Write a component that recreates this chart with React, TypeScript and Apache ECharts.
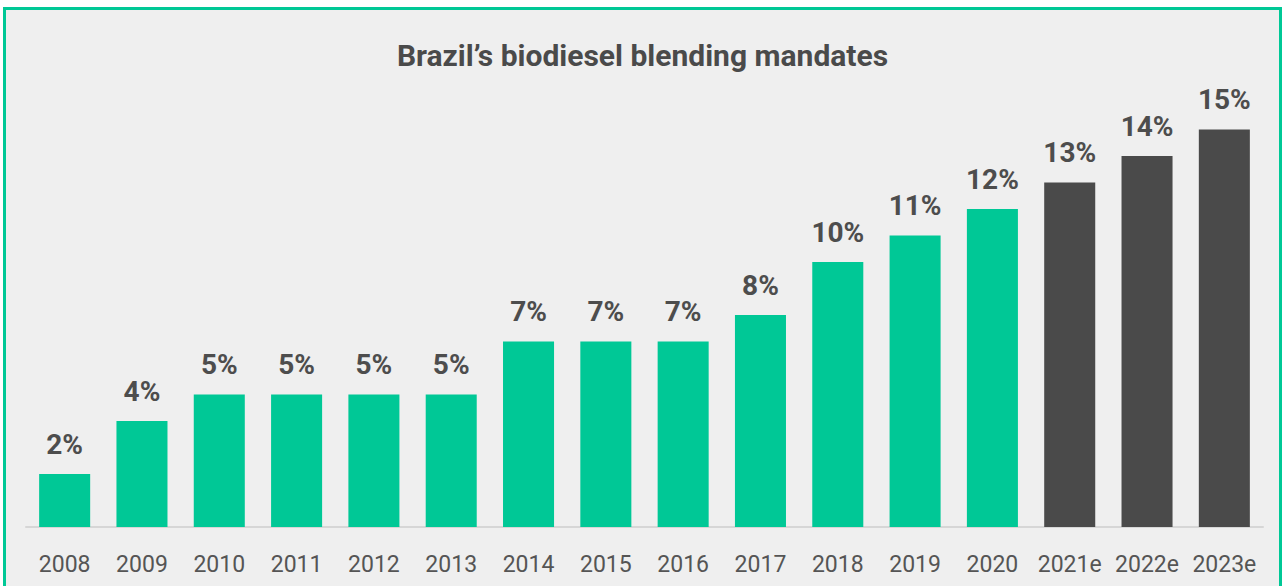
import React, { useEffect, useRef } from "react";
import * as echarts from "echarts";

const years = ["2008", "2009", "2010", "2011", "2012", "2013", "2014", "2015", "2016", "2017", "2018", "2019", "2020", "2021e", "2022e", "2023e"];
const mandates = [2, 4, 5, 5, 5, 5, 7, 7, 7, 8, 10, 11, 12, 13, 14, 15];
const isEstimate = [false, false, false, false, false, false, false, false, false, false, false, false, false, true, true, true];

const GREEN = "#00c896";
const DARK = "#4a4a4a";

export default function App() {
  const ref = useRef<HTMLDivElement>(null);

  useEffect(() => {
    if (!ref.current) return;
    const chart = echarts.init(ref.current, null, { renderer: "svg" });
    chart.setOption({
      animation: false,
      backgroundColor: "#ffffff",
      textStyle: { fontFamily: "Roboto" },
      graphic: [
        {
          type: "rect",
          z: -10,
          silent: true,
          shape: { x: 4.5, y: 8.5, width: 1276, height: 620 },
          style: { fill: "#efefef", stroke: GREEN, lineWidth: 3 },
        },
      ],
      title: {
        text: "Brazil\u2019s biodiesel blending mandates",
        left: "center",
        top: 35,
        textStyle: { fontFamily: "Roboto", fontWeight: "bold", fontSize: 30, color: "#4a4a4a" },
      },
      grid: { left: 26, right: 22, top: 103, bottom: 59 },
      xAxis: {
        type: "category",
        data: years,
        axisLine: { show: true, lineStyle: { color: "#d6d6d6", width: 2 } },
        axisTick: { show: false },
        axisLabel: { interval: 0, color: "#555555", fontSize: 23, margin: 26, fontFamily: "Roboto" },
      },
      yAxis: { type: "value", min: 0, max: 16, show: false, splitLine: { show: false } },
      series: [
        {
          type: "bar",
          barCategoryGap: "34%",
          data: mandates.map((v, i) => ({
            value: v,
            itemStyle: { color: isEstimate[i] ? DARK : GREEN },
          })),
          label: {
            show: true,
            position: "top",
            distance: 16,
            formatter: "{c}%",
            color: "#4d4d4d",
            fontSize: 28,
            fontWeight: "bold",
            fontFamily: "Roboto",
          },
        },
      ],
    });
    return () => chart.dispose();
  }, []);

  return <div ref={ref} style={{ position: "fixed", left: 0, top: 0, width: 1285, height: 586 }} />;
}
